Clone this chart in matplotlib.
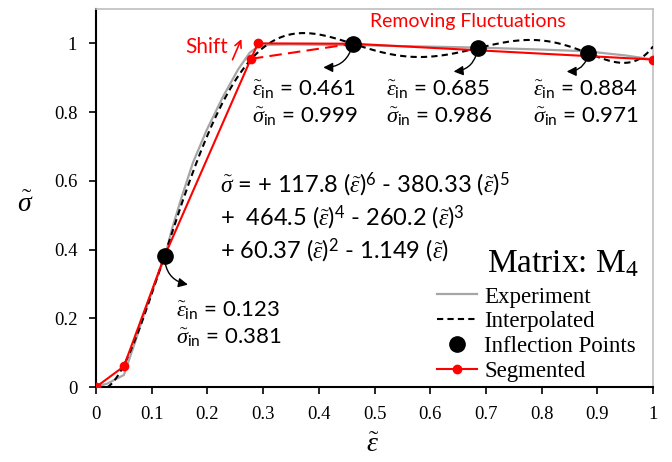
import numpy as np
import matplotlib
matplotlib.use('Agg')
import matplotlib.pyplot as plt
from matplotlib.lines import Line2D

plt.rcParams['font.family'] = 'Liberation Serif'
plt.rcParams['mathtext.fontset'] = 'custom'
plt.rcParams['mathtext.rm'] = 'Liberation Serif'
plt.rcParams['mathtext.it'] = 'Liberation Serif:italic'
plt.rcParams['mathtext.sf'] = 'Lato'

# Curva experimental normalizada
exp_x = [0, 0.02, 0.05, 0.07, 0.09, 0.11, 0.123, 0.136, 0.154, 0.174, 0.199, 0.228,
         0.255, 0.276, 0.29, 0.31, 0.35, 0.40, 0.46, 0.55, 0.68, 0.80, 0.88, 0.95, 1.0]
exp_y = [0, 0.01, 0.035, 0.13, 0.23, 0.32, 0.375, 0.458, 0.554, 0.653, 0.749, 0.845,
         0.924, 0.973, 0.99, 0.996, 0.997, 0.996, 0.995, 0.992, 0.988, 0.982, 0.977, 0.965, 0.953]

# Coeficientes del polinomio interpolado (grado 6 -> 0)
poli = [117.8, -380.33, 464.5, -260.2, 60.37, -1.149, 0.0]

# Puntos de inflexion
inf_x = [0.123, 0.461, 0.685, 0.884]
inf_y = [0.381, 0.999, 0.986, 0.971]

# Curva segmentada
seg_x = [0, 0.05, 0.123, 0.278, 0.291, 0.461, 1.0]
seg_y = [0, 0.06, 0.381, 0.955, 1.0, 0.999, 0.953]

# Segmento original antes del desplazamiento
orig_x = [0.278, 0.461]
orig_y = [0.955, 0.999]

x_ticks = [0, 0.1, 0.2, 0.3, 0.4, 0.5, 0.6, 0.7, 0.8, 0.9, 1.0]
x_labels = ['0', '0.1', '0.2', '0.3', '0.4', '0.5', '0.6', '0.7', '0.8', '0.9', '1']
y_ticks = [0, 0.2, 0.4, 0.6, 0.8, 1.0]
y_labels = ['0', '0.2', '0.4', '0.6', '0.8', '1']

rojo = '#ff0000'
gris = '#a6a6a6'
sans = 'Lato'

fig = plt.figure(figsize=(6.72, 4.62), dpi=100)
ax = fig.add_axes([0.1429, 0.1623, 0.8289, 0.8182])

ax.plot(exp_x, exp_y, color=gris, lw=1.6, zorder=2)

xi = np.linspace(0.02, 1.0, 300)
yi = np.polyval(poli, xi)
ax.plot(xi, yi, color='black', lw=1.5, ls=(0, (3, 2)), zorder=3)

ax.plot(orig_x, orig_y, color=rojo, lw=1.5, ls=(0, (6, 3)), zorder=4)
ax.plot(seg_x, seg_y, color=rojo, lw=1.5, marker='o', ms=6, zorder=4)
ax.plot(inf_x, inf_y, 'o', color='black', ms=11, zorder=5)

# Flechas curvas hacia las etiquetas
flechas = [((0.123, 0.381), (0.165, 0.298), 0.4),
           ((0.461, 0.999), (0.408, 0.930), -0.4),
           ((0.685, 0.986), (0.642, 0.918), -0.4),
           ((0.884, 0.971), (0.845, 0.918), -0.4)]
for p0, p1, r in flechas:
    ax.annotate('', xy=p1, xytext=p0,
                arrowprops=dict(arrowstyle='-|>', color='black', lw=1.0,
                                mutation_scale=14,
                                connectionstyle=f'arc3,rad={r}',
                                shrinkA=5, shrinkB=0), zorder=6)

# Etiquetas de los puntos de inflexion (posicion de la linea base)
etiquetas = [(0.143, 0.207, 0.123, 0.381),
             (0.280, 0.851, 0.461, 0.999),
             (0.520, 0.851, 0.685, 0.986),
             (0.784, 0.851, 0.884, 0.971)]
for tx, ty, ex, sy in etiquetas:
    ax.text(tx, ty, r'$\tilde{\varepsilon}_{\mathsf{in}}$' + f' = {ex:.3f}',
            fontsize=16, family=sans, va='baseline', ha='left')
    ax.text(tx, ty - 0.083,
            r'$\tilde{\sigma}_{\mathsf{in}}$' + f' = {sy:.3f}',
            fontsize=16, family=sans, va='baseline', ha='left')

eq = (r'$\tilde{\sigma}$ = + 117.8 ($\tilde{\varepsilon}$)$^{\mathsf{6}}$ - 380.33 ($\tilde{\varepsilon}$)$^{\mathsf{5}}$' + '\n'
      r'+  464.5 ($\tilde{\varepsilon}$)$^{\mathsf{4}}$ - 260.2 ($\tilde{\varepsilon}$)$^{\mathsf{3}}$' + '\n'
      r'+ 60.37 ($\tilde{\varepsilon}$)$^{\mathsf{2}}$ - 1.149 ($\tilde{\varepsilon}$)')
ax.text(0.222, 0.492, eq, fontsize=17, family=sans, va='center', ha='left',
        linespacing=1.2)

ax.text(0.16, 0.988, 'Shift', color=rojo, fontsize=15, family=sans,
        va='center', ha='left')
ax.annotate('', xy=(0.263, 1.02), xytext=(0.243, 0.945),
            arrowprops=dict(arrowstyle='->', color=rojo, lw=1.2, mutation_scale=12))
ax.text(0.492, 1.065, 'Removing Fluctuations', color=rojo, fontsize=14,
        family=sans, va='center', ha='left')

ax.text(0.702, 0.334, r'Matrix: M$_4$', fontsize=24, va='baseline', ha='left')
handles = [Line2D([], [], color=gris, lw=1.6),
           Line2D([], [], color='black', lw=1.5, ls=(0, (3, 2))),
           Line2D([], [], color='black', marker='o', ls='none', ms=11),
           Line2D([], [], color=rojo, lw=1.5, marker='o', ms=6)]
ax.legend(handles, ['Experiment', 'Interpolated', 'Inflection Points', 'Segmented'],
          loc='upper left', bbox_to_anchor=(0.612, 0.266), frameon=False,
          fontsize=16.5, handlelength=1.75, handletextpad=0.32, labelspacing=0.16,
          borderpad=0, borderaxespad=0)

ax.set_xlim(0, 1)
ax.set_ylim(0, 1.1)
ax.set_xticks(x_ticks)
ax.set_xticklabels(x_labels)
ax.set_yticks(y_ticks)
ax.set_yticklabels(y_labels)
ax.tick_params(direction='out', length=5, width=1.2, labelsize=13.5, colors='black')
ax.tick_params(axis='x', pad=9)
ax.tick_params(axis='y', pad=8.5)
for s in ['left', 'bottom']:
    ax.spines[s].set_linewidth(1.5)
for s in ['top', 'right']:
    ax.spines[s].set_color('#bfbfbf')
    ax.spines[s].set_linewidth(1.2)

ax.set_xlabel(r'$\tilde{\varepsilon}$', fontsize=20, va='center')
ax.set_ylabel(r'$\tilde{\sigma}$', fontsize=20, rotation=0, va='center', ha='center')
ax.xaxis.set_label_coords(0.497, -0.156)
ax.yaxis.set_label_coords(-0.127, 0.481)

plt.savefig('out.png', dpi=100)
